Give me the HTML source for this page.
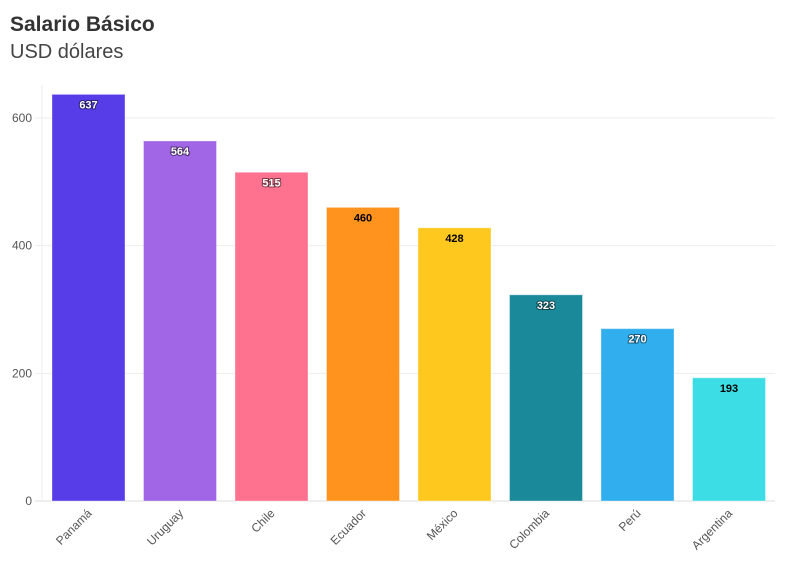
<!DOCTYPE html>
<html><head><meta charset="utf-8"><style>
body{margin:0;background:#fff;font-family:"Liberation Sans",sans-serif;}
svg text{font-family:"Liberation Sans",sans-serif;}
</style></head><body>
<svg width="796" height="575" xmlns="http://www.w3.org/2000/svg">
<text x="10" y="31" font-size="21" font-weight="bold" fill="#333">Salario Básico</text>
<text x="10" y="58" font-size="20" fill="#444">USD dólares</text>
<g id="grid"></g><g id="bars"></g><g id="xlabels"></g>
</svg>
<script>
const categories=["Panamá","Uruguay","Chile","Ecuador","México","Colombia","Perú","Argentina"];
const values=[637,564,515,460,428,323,270,193];
const colors=["#573de8","#a066e6","#ff728f","#ff931e","#ffc81e","#1a8a9a","#30aeed","#3ddde6"];
const labelDark=[false,false,false,true,true,false,false,true];
const yTicks=[0,200,400,600];
const NS="http://www.w3.org/2000/svg";
const y0=501,yScale=383/600;
const y=v=>y0-v*yScale;
const bandStart=43,band=91.5,barW=73,barOff=9;
const x=i=>bandStart+i*band+barOff;
function mk(t,a,p){const e=document.createElementNS(NS,t);for(const k in a)e.setAttribute(k,a[k]);p.appendChild(e);return e;}
const grid=document.getElementById('grid');
yTicks.forEach(t=>{
  const l=mk('line',{x1:35,x2:775,y1:y(t),y2:y(t),stroke:t==0?'#ddd':'#eee'},grid);
  
  
  const tx=mk('text',{x:32,y:y(t)+4,'font-size':12,fill:'#555','text-anchor':'end'},grid);
  tx.textContent=t;
  
  
});
const ax=mk('line',{x1:42,x2:42,y1:85,y2:501,stroke:'#eee'},grid);


const bars=document.getElementById('bars'),xl=document.getElementById('xlabels');
values.forEach((v,i)=>{
  const r=mk('rect',{x:x(i),y:y(v),width:barW,height:y0-y(v),fill:colors[i],stroke:'rgba(255,255,255,0.35)'},bars);
  
  
  const dark=labelDark[i];
  const t=mk('text',{x:x(i)+barW/2,y:y(v)+14,'font-size':11,'font-weight':'bold','text-anchor':'middle',fill:dark?'#000':'#fff',stroke:dark?'none':'rgba(0,0,0,0.5)','stroke-width':2,'paint-order':'stroke'},bars);
  t.textContent=v;
  
  
  const cx=x(i)+barW/2+4,cy=514;
  const c=mk('text',{x:cx,y:cy,'font-size':12,fill:'#555','text-anchor':'end',transform:`rotate(-45 ${cx} ${cy})`},xl);
  c.textContent=categories[i];
  
  
});
</script>
</body></html>
